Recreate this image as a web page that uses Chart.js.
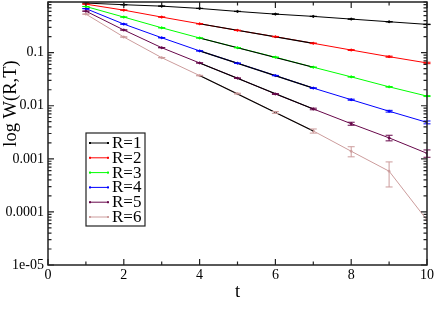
<!DOCTYPE html>
<html>
<head>
<meta charset="utf-8">
<script src="https://cdn.jsdelivr.net/npm/chart.js@4/dist/chart.umd.min.js"></script>
<style>
  html, body { margin: 0; padding: 0; background: #fff; }
  #wrap { width: 436px; height: 315px; }
</style>
</head>
<body>
<div id="wrap"><canvas id="myChart" width="436" height="315"></canvas></div>
<script>
// time extents T
var tValues = [1, 2, 3, 4, 5, 6, 7, 8, 9, 10];
var seriesLabels = ['R=1', 'R=2', 'R=3', 'R=4', 'R=5', 'R=6'];
var seriesColors = ['#000000', '#ff0000', '#00ff00', '#0000ff', '#67074a', '#cc9c9c'];

// W(R,T) values
var w1 = [0.86, 0.80, 0.752, 0.681, 0.598, 0.532, 0.482, 0.429, 0.382, 0.341];
var w2 = [0.82, 0.632, 0.468, 0.350, 0.263, 0.200, 0.150, 0.112, 0.084, 0.064];
var w3 = [0.74, 0.468, 0.294, 0.189, 0.124, 0.082, 0.0532, 0.035, 0.0227, 0.0152];
var w4 = [0.675, 0.345, 0.191, 0.108, 0.0633, 0.037, 0.0215, 0.013, 0.00789, 0.00486];
var w5 = [0.605, 0.267, 0.124, 0.064, 0.0331, 0.01665, 0.0087, 0.00459, 0.00248, 0.00127];
var w6 = [0.532, 0.197, 0.0805, 0.037, 0.0169, 0.00748, 0.00335, 0.00139, 0.000585, 0.00007];

// errors (absolute)
var e1 = [0.003, 0.003, 0.003, 0.003, 0.003, 0.003, 0.003, 0.003, 0.003, 0.003];
var e2 = [0.002, 0.002, 0.002, 0.002, 0.002, 0.002, 0.002, 0.002, 0.002, 0.002];
var e3 = [0.002, 0.0015, 0.001, 0.0008, 0.0006, 0.0005, 0.0004, 0.0003, 0.0003, 0.0003];
var e4 = [0.002, 0.001, 0.0008, 0.0006, 0.0004, 0.0003, 0.0003, 0.0003, 0.0003, 0.0003];
var e5 = [0.002, 0.001, 0.0006, 0.0004, 0.0003, 0.0003, 0.0003, 0.0003, 0.0003, 0.0002];
var e6 = [0.002, 0.001, 0.0006, 0.0004, 0.0003, 0.0003, 0.0003, 0.0003, 0.00029, 0];

// fit window (black lines)
var fitFrom = 4;
var fitTo = 7;

var xTickValues = [0, 2, 4, 6, 8, 10];
var xMinorValues = [1, 3, 5, 7, 9];
var yTickValues = [0.00001, 0.0001, 0.001, 0.01, 0.1];
var yTickLabels = ['1e-05', '0.0001', '0.001', '0.01', '0.1'];

var allW = [w1, w2, w3, w4, w5, w6];
var allE = [e1, e2, e3, e4, e5, e6];

var SERIF = "'Liberation Serif', 'DejaVu Serif', serif";

function toPoints(w) {
    return tValues.map(function (t, i) { return { x: t, y: w[i] }; });
}

var datasets = [];
allW.forEach(function (w, k) {
    datasets.push({
        label: seriesLabels[k],
        data: toPoints(w),
        errors: allE[k],
        borderColor: seriesColors[k],
        backgroundColor: seriesColors[k],
        borderWidth: 1,
        pointRadius: 1,
        pointHoverRadius: 1,
        tension: 0,
        order: 2
    });
});
// black fit lines between fitFrom and fitTo for R>=2
allW.forEach(function (w, k) {
    if (k === 0) return;
    var pts = toPoints(w).filter(function (p) { return p.x >= fitFrom && p.x <= fitTo; });
    datasets.push({
        label: 'fit ' + seriesLabels[k],
        data: [pts[0], pts[pts.length - 1]],
        borderColor: '#000000',
        borderWidth: 1.2,
        pointRadius: 0,
        isFit: true,
        order: 1
    });
});

var decor = {
    id: 'decor',
    afterDatasetsDraw: function (chart) {
        var ctx = chart.ctx;
        var xs = chart.scales.x, ys = chart.scales.y;
        var ca = chart.chartArea;
        ctx.save();
        // error bars
        chart.data.datasets.forEach(function (ds) {
            if (!ds.errors) return;
            ctx.strokeStyle = ds.borderColor;
            ctx.lineWidth = 1;
            ds.data.forEach(function (p, i) {
                var e = ds.errors[i];
                if (!e) return;
                var px = xs.getPixelForValue(p.x);
                var lo = p.y - e > 0 ? ys.getPixelForValue(p.y - e) : ca.bottom;
                var hi = ys.getPixelForValue(p.y + e);
                ctx.beginPath();
                ctx.moveTo(px, lo); ctx.lineTo(px, hi);
                ctx.moveTo(px - 3.5, lo); ctx.lineTo(px + 3.5, lo);
                ctx.moveTo(px - 3.5, hi); ctx.lineTo(px + 3.5, hi);
                ctx.stroke();
            });
        });
        ctx.restore();
    },
    afterDraw: function (chart) {
        var ctx = chart.ctx;
        var xs = chart.scales.x, ys = chart.scales.y;
        var ca = chart.chartArea;
        ctx.save();
        ctx.strokeStyle = '#222';
        ctx.lineWidth = 1.5;
        ctx.strokeRect(ca.left, ca.top, ca.right - ca.left, ca.bottom - ca.top);
        // inward ticks
        ctx.lineWidth = 1.2;
        ctx.beginPath();
        function xt(v, len) {
            var px = xs.getPixelForValue(v);
            ctx.moveTo(px, ca.bottom); ctx.lineTo(px, ca.bottom - len);
            ctx.moveTo(px, ca.top); ctx.lineTo(px, ca.top + len);
        }
        function yt(v, len) {
            var py = ys.getPixelForValue(v);
            if (py < ca.top - 0.5 || py > ca.bottom + 0.5) return;
            ctx.moveTo(ca.left, py); ctx.lineTo(ca.left + len, py);
            ctx.moveTo(ca.right, py); ctx.lineTo(ca.right - len, py);
        }
        xTickValues.forEach(function (v) { xt(v, 6); });
        xMinorValues.forEach(function (v) { xt(v, 3.5); });
        yTickValues.forEach(function (v) {
            yt(v, 6);
            for (var m = 2; m <= 9; m++) yt(v * m, 3.5);
        });
        ctx.stroke();

        // axis titles
        ctx.fillStyle = '#000';
        ctx.font = '18.5px ' + SERIF;
        ctx.textAlign = 'center';
        ctx.textBaseline = 'middle';
        ctx.fillText('t', (ca.left + ca.right) / 2, 292);
        ctx.save();
        ctx.translate(11, 103.5);
        ctx.rotate(-Math.PI / 2);
        ctx.fillText('log W(R,T)', 0, 0);
        ctx.restore();

        // legend box
        var lx = 86, ly = 133, lw = 59, lh = 93;
        ctx.fillStyle = '#fff';
        ctx.fillRect(lx, ly, lw, lh);
        ctx.strokeStyle = '#222';
        ctx.lineWidth = 1.2;
        ctx.strokeRect(lx, ly, lw, lh);
        ctx.font = '17px ' + SERIF;
        ctx.textAlign = 'left';
        chart.data.datasets.forEach(function (ds, i) {
            if (ds.isFit) return;
            var yy = 143 + i * 14.8;
            ctx.strokeStyle = ds.borderColor;
            ctx.fillStyle = ds.borderColor;
            ctx.lineWidth = 1;
            ctx.beginPath();
            ctx.moveTo(90, yy); ctx.lineTo(108, yy);
            ctx.stroke();
            ctx.fillRect(89, yy - 1, 2, 2);
            ctx.fillRect(107, yy - 1, 2, 2);
            ctx.fillStyle = '#000';
            ctx.fillText(ds.label, 112, yy + 0.5);
        });
        ctx.restore();
    }
};

var ctx = document.getElementById('myChart').getContext('2d');
var chart = new Chart(ctx, {
    type: 'line',
    data: { datasets: datasets },
    plugins: [decor],
    options: {
        responsive: false,
        animation: false,
        layout: { padding: { top: 1, right: 8, left: 0, bottom: 0 } },
        plugins: {
            legend: { display: false },
            tooltip: { enabled: false }
        },
        scales: {
            x: {
                type: 'linear',
                min: 0,
                max: 10,
                afterFit: function (s) { s.height = 50; },
                afterBuildTicks: function (s) {
                    s.ticks = xTickValues.map(function (v) { return { value: v }; });
                },
                grid: { display: false, drawTicks: false },
                border: { display: false },
                ticks: {
                    padding: 2,
                    color: '#000',
                    font: { family: SERIF, size: 14 },
                    maxRotation: 0,
                    autoSkip: false
                }
            },
            y: {
                type: 'logarithmic',
                min: 0.00001,
                max: 0.9,
                afterFit: function (s) {
                    s.width = 48;
                    s.paddingTop = 0;
                    s.paddingBottom = 0;
                },
                afterBuildTicks: function (s) {
                    s.ticks = yTickValues.map(function (v) { return { value: v }; });
                },
                grid: { display: false, drawTicks: false },
                border: { display: false },
                ticks: {
                    padding: 4,
                    color: '#000',
                    font: { family: SERIF, size: 14 },
                    autoSkip: false,
                    callback: function (v, i) { return yTickLabels[i]; }
                }
            }
        }
    }
});
</script>
</body>
</html>
